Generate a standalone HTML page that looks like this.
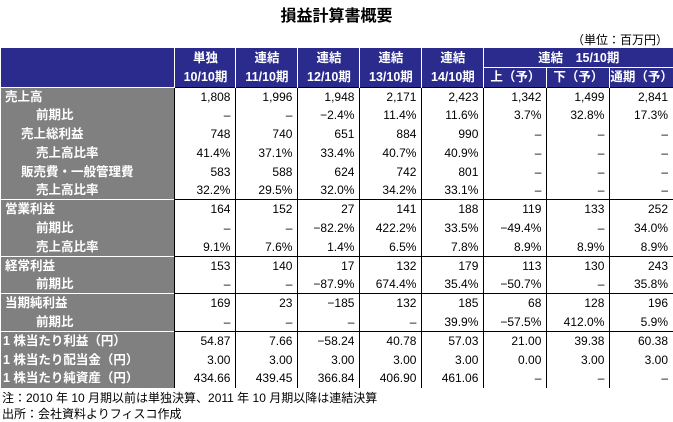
<!DOCTYPE html>
<html><head><meta charset="utf-8"><style>
body{margin:0;width:673px;height:422px;background:#fff;font-family:"Liberation Sans","Noto Sans CJK JP",sans-serif;position:relative;overflow:hidden}
.t{position:absolute;left:0;width:673px;top:2px;text-align:center;font-size:16px;font-weight:bold}
.u{position:absolute;right:5px;top:31px;font-size:12px}
table{position:absolute;left:1px;top:48px;border-collapse:collapse;table-layout:fixed;font-size:12px}
td{height:18.8px;padding:0 5px 0 0;text-align:right;border-left:1px solid #000;white-space:nowrap;line-height:18px;box-sizing:border-box}
td.l{background:#808080;color:#fff;font-weight:bold;text-align:left;padding:0;border-left:none;border-right:1px solid #000;font-size:12.5px}
tr.h td{background:#2b2b8e;color:#fff;font-weight:bold;text-align:center;padding:0;border-left:1px solid #fff;height:19.5px;font-size:12.5px}
tr.h td.first{border-left:none}
tr.g td{border-top:1.5px solid #000}
tr.g td.l{border-top:1.5px solid #fff}
.n{position:absolute;left:2px;font-size:12px}
</style></head><body>
<div class="t">損益計算書概要</div>
<div class="u">（単位：百万円）</div>
<table>
<colgroup><col style="width:174px"><col style="width:61px"><col style="width:62px"><col style="width:62px"><col style="width:62px"><col style="width:62px"><col style="width:63px"><col style="width:63px"><col style="width:62px"></colgroup>
<tr class="h"><td class="first" rowspan="2"></td><td>単独</td><td>連結</td><td>連結</td><td>連結</td><td>連結</td><td colspan="3" style="border-bottom:1px solid #fff">連結　15/10期</td></tr>
<tr class="h"><td>10/10期</td><td>11/10期</td><td>12/10期</td><td>13/10期</td><td>14/10期</td><td>上（予）</td><td>下（予）</td><td>通期（予）</td></tr>
<tr class="g"><td class="l" style="padding-left:4px">売上高</td><td>1,808</td><td>1,996</td><td>1,948</td><td>2,171</td><td>2,423</td><td>1,342</td><td>1,499</td><td>2,841</td></tr>
<tr><td class="l" style="padding-left:35px">前期比</td><td>–</td><td>–</td><td>−2.4%</td><td>11.4%</td><td>11.6%</td><td>3.7%</td><td>32.8%</td><td>17.3%</td></tr>
<tr><td class="l" style="padding-left:20px">売上総利益</td><td>748</td><td>740</td><td>651</td><td>884</td><td>990</td><td>–</td><td>–</td><td>–</td></tr>
<tr><td class="l" style="padding-left:35px">売上高比率</td><td>41.4%</td><td>37.1%</td><td>33.4%</td><td>40.7%</td><td>40.9%</td><td>–</td><td>–</td><td>–</td></tr>
<tr><td class="l" style="padding-left:20px">販売費・一般管理費</td><td>583</td><td>588</td><td>624</td><td>742</td><td>801</td><td>–</td><td>–</td><td>–</td></tr>
<tr><td class="l" style="padding-left:35px">売上高比率</td><td>32.2%</td><td>29.5%</td><td>32.0%</td><td>34.2%</td><td>33.1%</td><td>–</td><td>–</td><td>–</td></tr>
<tr class="g"><td class="l" style="padding-left:4px">営業利益</td><td>164</td><td>152</td><td>27</td><td>141</td><td>188</td><td>119</td><td>133</td><td>252</td></tr>
<tr><td class="l" style="padding-left:35px">前期比</td><td>–</td><td>–</td><td>−82.2%</td><td>422.2%</td><td>33.5%</td><td>−49.4%</td><td>–</td><td>34.0%</td></tr>
<tr><td class="l" style="padding-left:35px">売上高比率</td><td>9.1%</td><td>7.6%</td><td>1.4%</td><td>6.5%</td><td>7.8%</td><td>8.9%</td><td>8.9%</td><td>8.9%</td></tr>
<tr class="g"><td class="l" style="padding-left:4px">経常利益</td><td>153</td><td>140</td><td>17</td><td>132</td><td>179</td><td>113</td><td>130</td><td>243</td></tr>
<tr><td class="l" style="padding-left:35px">前期比</td><td>–</td><td>–</td><td>−87.9%</td><td>674.4%</td><td>35.4%</td><td>−50.7%</td><td>–</td><td>35.8%</td></tr>
<tr class="g"><td class="l" style="padding-left:4px">当期純利益</td><td>169</td><td>23</td><td>−185</td><td>132</td><td>185</td><td>68</td><td>128</td><td>196</td></tr>
<tr><td class="l" style="padding-left:35px">前期比</td><td>–</td><td>–</td><td>–</td><td>–</td><td>39.9%</td><td>−57.5%</td><td>412.0%</td><td>5.9%</td></tr>
<tr class="g"><td class="l" style="padding-left:2px">1 株当たり利益（円）</td><td>54.87</td><td>7.66</td><td>−58.24</td><td>40.78</td><td>57.03</td><td>21.00</td><td>39.38</td><td>60.38</td></tr>
<tr><td class="l" style="padding-left:2px">1 株当たり配当金（円）</td><td>3.00</td><td>3.00</td><td>3.00</td><td>3.00</td><td>3.00</td><td>0.00</td><td>3.00</td><td>3.00</td></tr>
<tr><td class="l" style="padding-left:2px">1 株当たり純資産（円）</td><td>434.66</td><td>439.45</td><td>366.84</td><td>406.90</td><td>461.06</td><td>–</td><td>–</td><td>–</td></tr>
</table>
<div class="n" style="top:389px">注：2010 年 10 月期以前は単独決算、2011 年 10 月期以降は連結決算</div>
<div class="n" style="top:405px">出所：会社資料よりフィスコ作成</div>
</body></html>
